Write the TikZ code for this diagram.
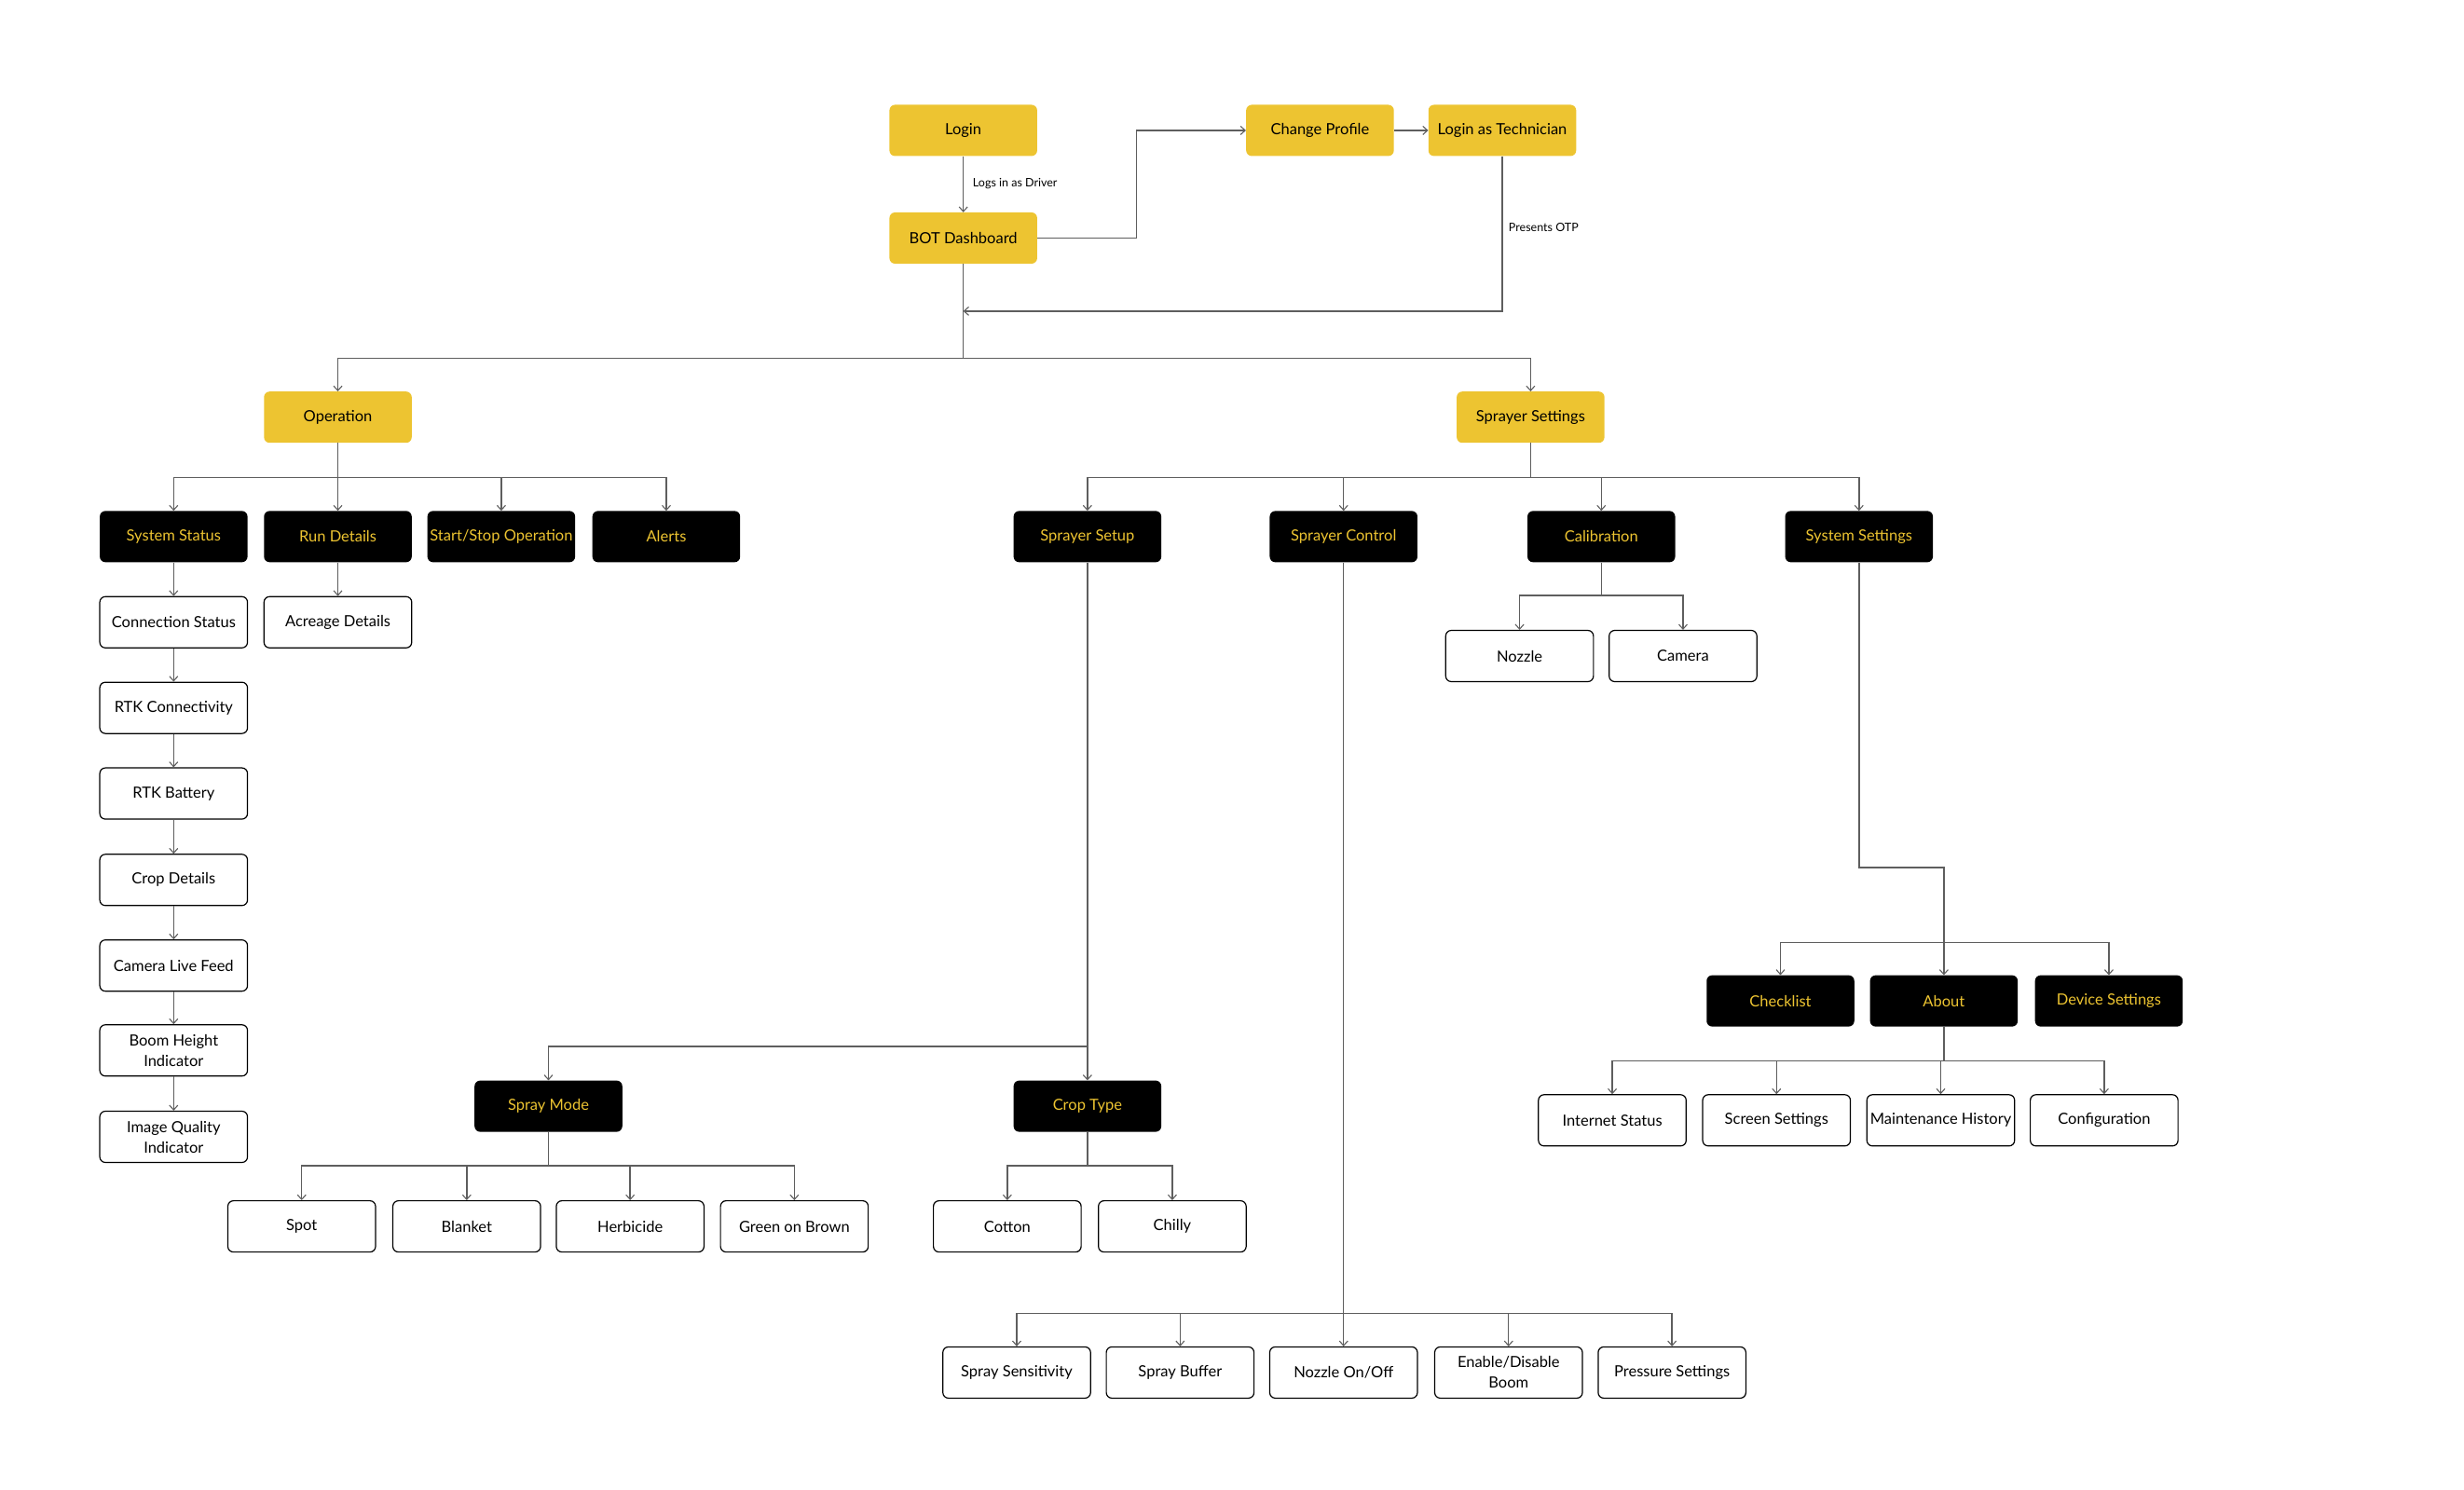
\documentclass[tikz,border=0pt]{standalone}
\usepackage{fontspec}
\setmainfont{Lato}
\usetikzlibrary{arrows.meta}
\definecolor{ybox}{HTML}{EDC431}
\definecolor{ytxt}{HTML}{EDC431}
\definecolor{lgray}{HTML}{5E5E5E}
\tikzset{
  base/.style={rounded corners=6pt, minimum width=158.5pt, minimum height=55pt, inner sep=1pt, align=center, font=\fontsize{16.5}{22}\selectfont},
  ybx/.style={base, fill=ybox, text=black},
  kbx/.style={base, fill=black, text=ytxt},
  wbx/.style={base, draw=black, line width=1.2pt, fill=white, text=black},
  ln/.style={draw=lgray, line width=1.4pt},
  arr/.style={ln, -{Straight Barb[length=5pt,width=9pt,line width=1.1pt]}},
  lbl/.style={font=\fontsize{12.5}{14}\selectfont, text=black, anchor=west, inner sep=0pt}
}
\begin{document}
\begin{tikzpicture}[x=1.6862pt, y=-1.6862pt]
\useasboundingbox (0,0) rectangle (1568,948);
% top
\node[ybx] (login) at (613,83) {Login};
\node[ybx] (bot) at (613,151.5) {BOT Dashboard};
\node[ybx] (cp) at (840,83) {Change Profile};
\node[ybx] (tech) at (956,83) {Login as Technician};
\node[ybx] (op) at (215,265.5) {Operation};
\node[ybx] (sset) at (974,265.5) {Sprayer Settings};
% row 2
\node[kbx] (sysst) at (110.5,341.5) {System Status};
\node[kbx] (run) at (215,341.5) {Run Details};
\node[kbx] (ss) at (319,341.5) {Start/Stop Operation};
\node[kbx] (alerts) at (424,341.5) {Alerts};
\node[kbx] (ssetup) at (692,341.5) {Sprayer Setup};
\node[kbx] (sctrl) at (855,341.5) {Sprayer Control};
\node[kbx] (calib) at (1019,341.5) {Calibration};
\node[kbx] (sysset) at (1183,341.5) {System Settings};
% system status chain
\node[wbx] (conn) at (110.5,396) {Connection Status};
\node[wbx] (rtkc) at (110.5,450.5) {RTK Connectivity};
\node[wbx] (rtkb) at (110.5,505) {RTK Battery};
\node[wbx] (crop) at (110.5,560) {Crop Details};
\node[wbx] (cam) at (110.5,614.5) {Camera Live Feed};
\node[wbx] (boom) at (110.5,668.5) {Boom Height\\Indicator};
\node[wbx] (img) at (110.5,723.5) {Image Quality\\Indicator};
\node[wbx] (acre) at (215,396) {Acreage Details};
% calibration
\node[wbx] (noz) at (967,417.5) {Nozzle};
\node[wbx] (camera) at (1071,417.5) {Camera};
% system settings
\node[kbx] (check) at (1133,637) {Checklist};
\node[kbx] (about) at (1237,637) {About};
\node[kbx] (dev) at (1342,637) {Device Settings};
\node[wbx] (inet) at (1026,713) {Internet Status};
\node[wbx] (screen) at (1130.5,713) {Screen Settings};
\node[wbx] (maint) at (1235,713) {Maintenance History};
\node[wbx] (config) at (1339,713) {Configuration};
% sprayer setup
\node[kbx] (smode) at (349,704) {Spray Mode};
\node[kbx] (ctype) at (692,704) {Crop Type};
\node[wbx] (spot) at (192,780.5) {Spot};
\node[wbx] (blanket) at (297,780.5) {Blanket};
\node[wbx] (herb) at (401,780.5) {Herbicide};
\node[wbx] (gob) at (505.5,780.5) {Green on Brown};
\node[wbx] (cotton) at (641,780.5) {Cotton};
\node[wbx] (chilly) at (746,780.5) {Chilly};
% sprayer control
\node[wbx] (sens) at (647,873.5) {Spray Sensitivity};
\node[wbx] (buf) at (751,873.5) {Spray Buffer};
\node[wbx] (nozoo) at (855,873.5) {Nozzle On/Off};
\node[wbx] (enab) at (960,873.5) {Enable/Disable\\Boom};
\node[wbx] (press) at (1064,873.5) {Pressure Settings};

% bus coordinates
\coordinate (otp) at (613,198);
\coordinate (topbus) at (613,228);
\coordinate (opbus) at (215,304);
\coordinate (ssbus) at (974,304);
\coordinate (supbus) at (692,666);
\coordinate (ctrlbus) at (855,836);
\coordinate (calbus) at (1019,379);
\coordinate (ssbend) at (1237,552);
\coordinate (ss2bus) at (1237,600);
\coordinate (aboutbus) at (1237,675);
\coordinate (smbus) at (349,742);
\coordinate (ctbus) at (692,742);

% top connectors
\draw[arr] (login) -- (bot);
\node[lbl] (drvlbl) at (619,117) {Logs in as Driver};
\draw[arr] (bot.east) -- ++(63,0) |- (cp.west);
\draw[arr] (cp) -- (tech);
\draw[arr] (tech.south) |- (otp);
\node[lbl] (otplbl) at (960,145) {Presents OTP};
\draw[ln] (bot.south) -- (topbus);
\draw[arr] (topbus) -| (op.north);
\draw[arr] (topbus) -| (sset.north);
% operation
\draw[ln] (op.south) -- (opbus);
\foreach \c in {sysst,run,ss,alerts} \draw[arr] (opbus) -| (\c.north);
\draw[arr] (sysst) -- (conn);
\draw[arr] (conn) -- (rtkc);
\draw[arr] (rtkc) -- (rtkb);
\draw[arr] (rtkb) -- (crop);
\draw[arr] (crop) -- (cam);
\draw[arr] (cam) -- (boom);
\draw[arr] (boom) -- (img);
\draw[arr] (run) -- (acre);
% sprayer settings
\draw[ln] (sset.south) -- (ssbus);
\foreach \c in {ssetup,sctrl,calib,sysset} \draw[arr] (ssbus) -| (\c.north);
% sprayer setup
\draw[ln] (ssetup.south) -- (supbus);
\draw[arr] (supbus) -| (smode.north);
\draw[arr] (supbus) -- (ctype.north);
\draw[ln] (smode.south) -- (smbus);
\foreach \c in {spot,blanket,herb,gob} \draw[arr] (smbus) -| (\c.north);
\draw[ln] (ctype.south) -- (ctbus);
\foreach \c in {cotton,chilly} \draw[arr] (ctbus) -| (\c.north);
% sprayer control
\draw[ln] (sctrl.south) -- (ctrlbus);
\foreach \c in {sens,buf,nozoo,enab,press} \draw[arr] (ctrlbus) -| (\c.north);
% calibration
\draw[ln] (calib.south) -- (calbus);
\foreach \c in {noz,camera} \draw[arr] (calbus) -| (\c.north);
% system settings
\draw[ln] (sysset.south) |- (ssbend) -- (ss2bus);
\foreach \c in {check,about,dev} \draw[arr] (ss2bus) -| (\c.north);
\draw[ln] (about.south) -- (aboutbus);
\foreach \c in {inet,screen,maint,config} \draw[arr] (aboutbus) -| (\c.north);
\end{tikzpicture}
\end{document}
